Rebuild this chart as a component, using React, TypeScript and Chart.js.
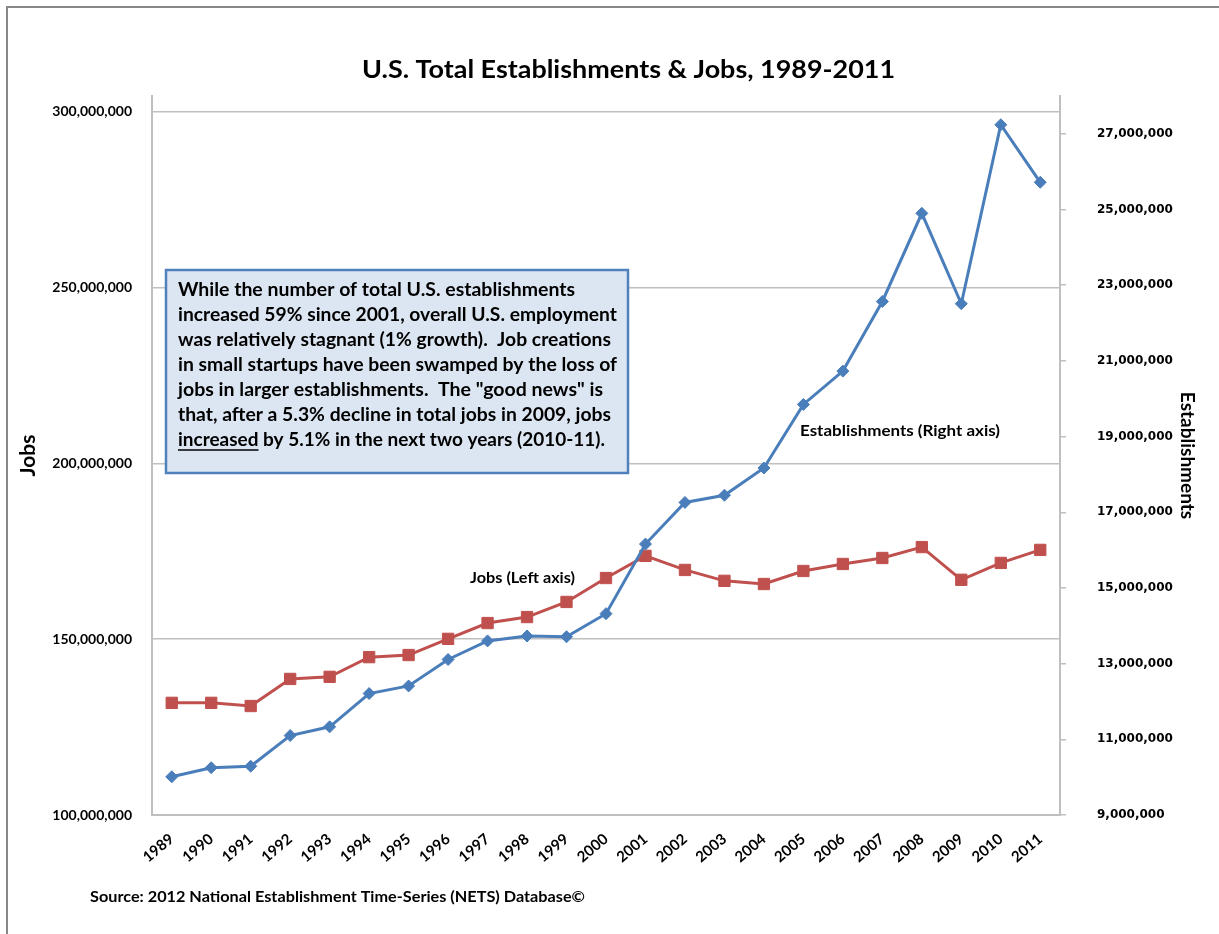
import { useEffect, useRef } from 'react';
import { Chart, registerables } from 'chart.js';

Chart.register(...registerables);

const YEARS = ['1989', '1990', '1991', '1992', '1993', '1994', '1995', '1996', '1997', '1998', '1999', '2000',
  '2001', '2002', '2003', '2004', '2005', '2006', '2007', '2008', '2009', '2010', '2011'];

const JOBS = [131.9e6, 131.9e6, 131.0e6, 138.7e6, 139.3e6, 144.9e6, 145.5e6, 150.1e6, 154.6e6, 156.3e6, 160.6e6, 167.4e6,
  173.7e6, 169.7e6, 166.6e6, 165.7e6, 169.4e6, 171.4e6, 173.1e6, 176.2e6, 166.9e6, 171.7e6, 175.4e6];

const ESTABLISHMENTS = [10.01e6, 10.25e6, 10.29e6, 11.10e6, 11.33e6, 12.21e6, 12.41e6, 13.11e6, 13.60e6, 13.73e6, 13.71e6, 14.32e6,
  16.16e6, 17.26e6, 17.45e6, 18.17e6, 19.85e6, 20.73e6, 22.57e6, 24.90e6, 22.51e6, 27.24e6, 25.72e6];

const JOBS_TICKS = [100e6, 150e6, 200e6, 250e6, 300e6];
const EST_TICKS = [9e6, 11e6, 13e6, 15e6, 17e6, 19e6, 21e6, 23e6, 25e6, 27e6];
const JOBS_RANGE = [100e6, 304.5e6];
const EST_RANGE = [9e6, 28e6];

const TITLE = 'U.S. Total Establishments & Jobs, 1989-2011';
const LEFT_TITLE = 'Jobs';
const RIGHT_TITLE = 'Establishments';
const JOBS_LABEL = 'Jobs (Left axis)';
const EST_LABEL = 'Establishments (Right axis)';
const SOURCE = 'Source: 2012 National Establishment Time-Series (NETS) Database©';
const NOTE_LINES = [
  'While the number of total U.S. establishments',
  'increased 59% since 2001, overall U.S. employment',
  'was relatively stagnant (1% growth).  Job creations',
  'in small startups have been swamped by the loss of',
  'jobs in larger establishments.  The "good news" is',
  'that, after a 5.3% decline in total jobs in 2009, jobs',
  'increased by 5.1% in the next two years (2010-11).',
];
const UNDERLINED_WORD = 'increased';

const W = 1219;
const H = 934;
const FONT = 'Lato, "Open Sans", sans-serif';

function fmt(v: number) {
  return Math.round(v).toLocaleString('en-US');
}

function fitText(ctx: CanvasRenderingContext2D, text: string, x: number, y: number, target: number, font: string) {
  ctx.save();
  ctx.font = font;
  ctx.textAlign = 'left';
  ctx.textBaseline = 'middle';
  const w = ctx.measureText(text).width;
  const s = target / w;
  ctx.translate(x, y);
  ctx.scale(s, 1);
  ctx.fillText(text, 0, 0);
  ctx.restore();
  return s;
}

const decorPlugin = {
  id: 'decor',
  beforeDraw(chart: any) {
    const ctx = chart.ctx as CanvasRenderingContext2D;
    ctx.save();
    ctx.fillStyle = '#ffffff';
    ctx.fillRect(0, 0, W, H);
    ctx.restore();
  },
  afterDraw(chart: any) {
    const ctx = chart.ctx as CanvasRenderingContext2D;
    ctx.save();
    // outer frame
    ctx.strokeStyle = '#878787';
    ctx.lineWidth = 2;
    ctx.beginPath();
    ctx.moveTo(7, H);
    ctx.lineTo(7, 7);
    ctx.lineTo(W, 7);
    ctx.stroke();

    ctx.fillStyle = '#000000';
    // title
    fitText(ctx, TITLE, 362, 70, 533, `bold 25px ${FONT}`);

    // note box
    ctx.fillStyle = '#dce6f2';
    ctx.fillRect(166, 270, 462, 203);
    ctx.strokeStyle = '#4f81bd';
    ctx.lineWidth = 2.5;
    ctx.strokeRect(166, 270, 462, 203);

    ctx.fillStyle = '#000000';
    const targets = [397, 439, 433, 439, 425, 433, 427];
    const noteFont = `bold 18px ${FONT}`;
    NOTE_LINES.forEach((line, i) => {
      const y = 290 + i * 25;
      const s = fitText(ctx, line, 178, y, targets[i], noteFont);
      if (i === NOTE_LINES.length - 1) {
        ctx.font = noteFont;
        const uw = ctx.measureText(UNDERLINED_WORD).width * s;
        ctx.strokeStyle = '#000000';
        ctx.lineWidth = 1.5;
        ctx.beginPath();
        ctx.moveTo(178, y + 10);
        ctx.lineTo(178 + uw, y + 10);
        ctx.stroke();
      }
    });

    // series labels
    fitText(ctx, JOBS_LABEL, 470, 578, 105, `bold 15px ${FONT}`);
    fitText(ctx, EST_LABEL, 800, 431, 200, `bold 15px ${FONT}`);

    // source
    fitText(ctx, SOURCE, 90, 897, 495, `bold 15px ${FONT}`);
    ctx.restore();
  },
};

export default function App() {
  const ref = useRef<HTMLCanvasElement | null>(null);

  useEffect(() => {
    document.body.style.margin = '0';
    const canvas = ref.current;
    if (!canvas) return;
    const chart = new Chart(canvas, {
      type: 'line',
      data: {
        labels: YEARS,
        datasets: [
          {
            label: 'Jobs',
            data: JOBS,
            yAxisID: 'yJobs',
            borderColor: '#c0504d',
            backgroundColor: '#c0504d',
            borderWidth: 3,
            pointStyle: 'rect',
            pointRadius: 8,
            pointBorderWidth: 1,
            pointBorderColor: '#c0504d',
            pointBackgroundColor: '#c0504d',
            tension: 0,
            order: 1,
          },
          {
            label: 'Establishments',
            data: ESTABLISHMENTS,
            yAxisID: 'yEst',
            borderColor: '#4a7ebb',
            backgroundColor: '#4a7ebb',
            borderWidth: 3,
            pointStyle: 'rectRot',
            pointRadius: 6,
            pointBorderWidth: 1,
            pointBorderColor: '#4a7ebb',
            pointBackgroundColor: '#4a7ebb',
            tension: 0,
            order: 0,
          },
        ],
      },
      options: {
        responsive: false,
        animation: false,
        devicePixelRatio: 1,
        layout: { padding: { top: 96, left: 0, right: 0, bottom: 0 } },
        plugins: {
          legend: { display: false },
          title: { display: false },
          tooltip: { enabled: false },
        },
        scales: {
          x: {
            type: 'category',
            offset: true,
            grid: { display: false, drawTicks: false },
            border: { display: true, color: '#bfbfbf', width: 2 },
            ticks: {
              autoSkip: false,
              minRotation: 40,
              maxRotation: 40,
              padding: 15,
              labelOffset: 0,
              color: '#000000',
              font: { family: FONT, size: 15, weight: 'bold' },
            },
            afterFit: (scale: any) => { scale.height = H - 815; },
          },
          yJobs: {
            type: 'linear',
            position: 'left',
            min: JOBS_RANGE[0],
            max: JOBS_RANGE[1],
            afterBuildTicks: (scale: any) => { scale.ticks = JOBS_TICKS.map((v) => ({ value: v })); },
            grid: { color: '#bfbfbf', lineWidth: 1.5, drawTicks: false },
            border: { display: true, color: '#bfbfbf', width: 2 },
            ticks: {
              padding: 20,
              color: '#000000',
              font: { family: FONT, size: 14, weight: 'bold' },
              callback: (v: any) => fmt(Number(v)),
            },
            title: {
              display: true,
              text: LEFT_TITLE,
              color: '#000000',
              font: { family: FONT, size: 21, weight: 'bold' },
              padding: { top: 16, bottom: 0 },
            },
            afterFit: (scale: any) => { scale.width = 152; },
          },
          yEst: {
            type: 'linear',
            position: 'right',
            min: EST_RANGE[0],
            max: EST_RANGE[1],
            afterBuildTicks: (scale: any) => { scale.ticks = EST_TICKS.map((v) => ({ value: v })); },
            grid: { drawOnChartArea: false, drawTicks: true, tickLength: 6, color: '#bfbfbf', lineWidth: 1.5 },
            border: { display: true, color: '#bfbfbf', width: 2 },
            ticks: {
              padding: 31,
              color: '#000000',
              font: { family: '"DejaVu Sans", sans-serif', size: 12, weight: 'bold' },
              callback: (v: any) => fmt(Number(v)),
            },
            title: {
              display: true,
              text: RIGHT_TITLE,
              color: '#000000',
              font: { family: FONT, size: 19, weight: 'bold' },
              padding: { top: 20, bottom: 0 },
            },
            afterFit: (scale: any) => { scale.width = W - 1060; },
          },
        },
      },
      plugins: [decorPlugin],
    });
    return () => chart.destroy();
  }, []);

  return (
    <div style={{ position: 'fixed', left: 0, top: 0, width: W, height: H, background: '#fff' }}>
      <canvas ref={ref} width={W} height={H} style={{ display: 'block', width: W, height: H }} />
    </div>
  );
}
